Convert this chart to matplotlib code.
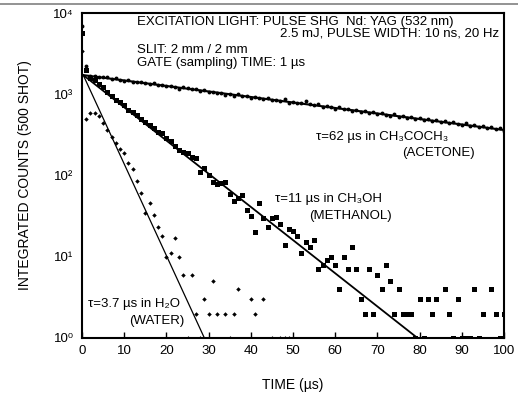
import numpy as np
import matplotlib
matplotlib.use('Agg')
import matplotlib.pyplot as plt
from matplotlib.lines import Line2D

plt.rcParams['font.family'] = ['Liberation Sans', 'DejaVu Sans']
plt.rcParams['font.size'] = 9.5

# Время (мкс), шаг 1 мкс
time_us = list(range(0, 101))

# Ацетон (кружки)
acetone = [7000, 2200, 1680, 1700, 1650, 1610, 1640, 1560, 1580, 1500, 1470,
           1490, 1420, 1400, 1430, 1370, 1350, 1380, 1300, 1310, 1260,
           1280, 1220, 1160, 1230, 1180, 1150, 1170, 1100, 1120, 1060,
           1080, 1040, 1050, 990, 1010, 960, 1000, 940, 950, 910,
           930, 890, 870, 900, 840, 860, 820, 880, 790, 800,
           780, 790, 820, 760, 730, 750, 700, 720, 690, 660,
           690, 650, 660, 620, 640, 610, 625, 580, 600, 570,
           585, 560, 545, 570, 530, 540, 510, 520, 500, 505,
           480, 495, 470, 480, 455, 470, 440, 455, 430, 420,
           440, 410, 420, 395, 405, 385, 395, 370, 380, 350]

# Метанол (квадраты), 0 = нет отсчётов
methanol = [5700, 2000, 1600, 1480, 1330, 1220, 1070, 960, 860, 800, 740,
            640, 600, 556, 495, 459, 417, 380, 346, 330, 287,
            269, 233, 206, 193, 187, 169, 162, 111, 123, 101,
            84, 78, 81, 84, 59, 49, 53, 58, 38, 32,
            20, 46, 30, 23, 30, 31, 25, 14, 22, 21,
            18, 11, 15, 13, 16, 7, 8, 9, 10, 8,
            4, 10, 7, 13, 7, 3, 2, 7, 2, 6,
            4, 8, 5, 2, 4, 2, 2, 2, 1, 3,
            1, 3, 2, 3, 0, 4, 2, 1, 3, 1,
            1, 1, 4, 1, 2, 0, 4, 2, 1, 2]

# Вода (ромбики)
water = [3400, 495, 590, 583, 545, 438, 363, 300, 252, 214, 188,
         141, 119, 86, 61, 35, 46, 33, 23, 18, 10,
         11, 17, 10, 6, 1, 6, 2, 1, 3, 2,
         5, 2, 0, 2, 1, 2, 4, 0, 0, 3,
         2, 0, 3, 0, 1, 0, 1, 1, 1, 0,
         0, 0, 0, 0, 0, 0, 0, 0, 0, 0,
         0, 0, 0, 0, 0, 0, 0, 0, 0, 0,
         0, 0, 0, 0, 0, 0, 0, 0, 0, 0,
         0, 0, 0, 0, 0, 0, 0, 0, 0, 0,
         0, 0, 0, 0, 0, 0, 0, 0, 0, 0]

# Аппроксимирующие прямые (концы)
acetone_fit_t = [0.3, 100]
acetone_fit_y = [1720, 363]
methanol_fit_t = [0.3, 79.5]
methanol_fit_y = [1720, 1]
water_fit_t = [0.3, 29]
water_fit_y = [1720, 1]

x_ticks = list(range(0, 101, 10))
y_ticks = [1, 10, 100, 1000, 10000]
y_tick_labels = ['10\u2070', '10\u00b9', '10\u00b2', '10\u00b3', '10\u2074']


def masked(vals):
    v = np.array(vals, dtype=float)
    v[v <= 0] = np.nan
    return v


fig = plt.figure(figsize=(5.18, 4.0), dpi=100)
ax = fig.add_axes([82 / 518, 62 / 400, 422 / 518, 325 / 400])

# серая линия сверху
fig.add_artist(Line2D([0, 1], [1 - 3.5 / 400, 1 - 3.5 / 400], color='#8a8a8a', lw=1.3,
                      transform=fig.transFigure))

t = np.array(time_us)
ax.plot(t, masked(acetone), 'o', color='black', ms=2.8, mew=0)
ax.plot(t, masked(methanol), 's', color='black', ms=3.6, mew=0)
ax.plot(t, masked(water), 'D', color='black', ms=2.3, mew=0)

ax.plot(acetone_fit_t, acetone_fit_y, color='black', lw=1.5)
ax.plot(methanol_fit_t, methanol_fit_y, color='black', lw=1.3)
ax.plot(water_fit_t, water_fit_y, color='black', lw=0.9)

ax.set_yscale('log')
ax.set_xlim(0, 100)
ax.set_ylim(1, 10000)
ax.set_xticks(x_ticks)
ax.set_yticks(y_ticks)
ax.set_yticklabels(y_tick_labels)
ax.yaxis.set_minor_locator(matplotlib.ticker.NullLocator())
ax.tick_params(axis='x', direction='in', length=4, width=1, pad=5, labelsize=9.5)
ax.tick_params(axis='y', direction='in', length=0, pad=6, labelsize=9.5)
for spine in ax.spines.values():
    spine.set_linewidth(1.5)

ax.set_xlabel('TIME (\u00b5s)', fontsize=10, labelpad=15)
ax.set_ylabel('INTEGRATED COUNTS (500 SHOT)', fontsize=10, labelpad=15)

# Подписи
def px(x, y):
    return (x - 82) / 422, (338 - y) / 325


for txt, (x, y), ha in [
    ('EXCITATION LIGHT: PULSE SHG  Nd: YAG (532 nm)', (137, 22.5), 'left'),
    ('2.5 mJ, PULSE WIDTH: 10 ns, 20 Hz', (499, 33), 'right'),
    ('SLIT: 2 mm / 2 mm', (137, 50), 'left'),
    ('GATE (sampling) TIME: 1 \u00b5s', (137, 63), 'left'),
    ('\u03c4=62 \u00b5s in CH\u2083COCH\u2083', (316, 137), 'left'),
    ('(ACETONE)', (475, 153), 'right'),
    ('\u03c4=11 \u00b5s in CH\u2083OH', (275, 199), 'left'),
    ('(METHANOL)', (350, 216), 'center'),
    ('\u03c4=3.7 \u00b5s in H\u2082O', (88, 304), 'left'),
    ('(WATER)', (156.5, 321), 'center'),
]:
    ax.text(*px(x, y), txt, transform=ax.transAxes, ha=ha, va='center', fontsize=9.5)

fig.savefig('out.png', dpi=100)
